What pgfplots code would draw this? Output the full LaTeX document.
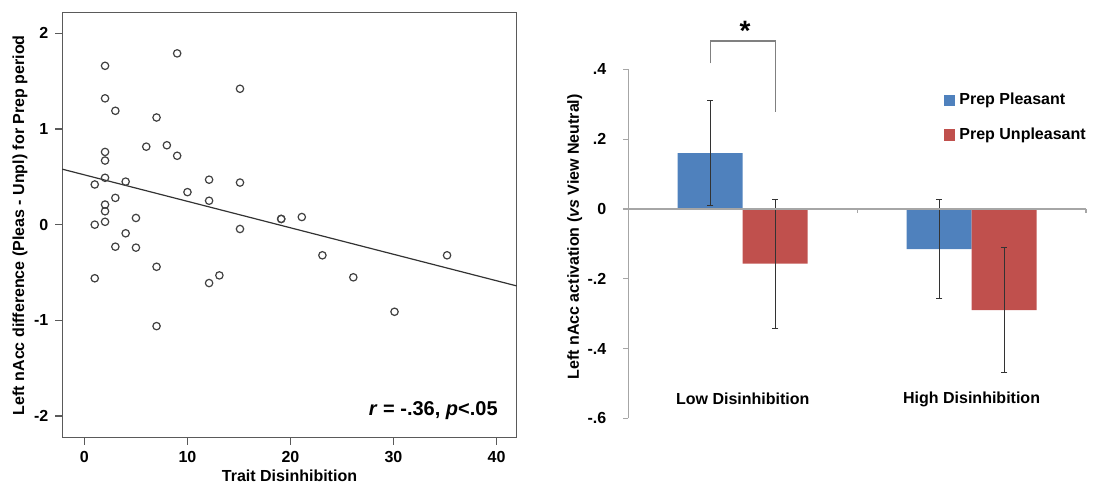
\documentclass[border=0pt]{standalone}
\usepackage{fontspec}
\setmainfont{Liberation Sans}
\usepackage{pgfplots}
\pgfplotsset{compat=1.18}
\definecolor{pleas}{HTML}{4F81BD}
\definecolor{unpl}{HTML}{C0504D}
\definecolor{frame}{HTML}{5A5A5A}
\newcommand\lab{\fontsize{8}{9.6}\selectfont\bfseries}

\begin{document}
\begin{tikzpicture}
\useasboundingbox (0,0) rectangle (546.5pt,242pt);

% left: scatter with regression line
\begin{axis}[
  at={(31.15pt,23.15pt)}, anchor=south west,
  scale only axis, width=227.2pt, height=212.5pt,
  xmin=-2.15, xmax=41.96, ymin=-2.226, ymax=2.215,
  xtick={0,10,20,30,40}, ytick={-2,-1,0,1,2},
  xticklabels={0,10,20,30,40}, yticklabels={-2,-1,0,1,2},
  tick align=outside, major tick length=3.5pt,
  xtick pos=bottom, ytick pos=left,
  axis line style={frame, line width=0.7pt},
  tick style={frame, line width=0.6pt},
  tick label style={font=\lab},
  xlabel={Trait Disinhibition},
  ylabel={Left nAcc difference (Pleas - Unpl) for Prep period},
  label style={font=\lab},
  xlabel style={at={(axis description cs:0.5,-0.09)}, anchor=center},
  ylabel style={at={(axis description cs:-0.093,0.5)}, anchor=center},
  clip=false,
]
\addplot[only marks, mark=o, mark size=1.85pt, mark options={draw=black!75, line width=0.6pt}] coordinates {
  (2,1.66) (9,1.79) (15.1,1.42) (2,1.32) (3,1.19) (7,1.12)
  (6,0.815) (8,0.83) (9,0.72) (2,0.76) (2,0.67) (2,0.49)
  (1,0.42) (4,0.45) (12.1,0.47) (15.1,0.44) (10,0.34) (3,0.28)
  (12.1,0.25) (2,0.21) (2,0.14) (1,0.00) (2,0.03) (5,0.07)
  (19.1,0.06) (19.1,0.06) (21.1,0.08) (15.1,-0.045) (4,-0.09)
  (3,-0.23) (5,-0.24) (7,-0.44) (1,-0.56) (12.1,-0.61) (13.1,-0.53)
  (7,-1.06) (23.1,-0.32) (26.1,-0.55) (30.1,-0.91) (35.2,-0.32)
};
\addplot[black!80, line width=0.6pt] coordinates {(-2.15,0.58) (41.96,-0.64)};
\node[anchor=east, font=\fontsize{10}{12}\selectfont\bfseries] at (axis cs:40.8,-1.94)
  {\textit{r} = -.36, \textit{p}<.05};
\end{axis}

% right: bar chart
\begin{axis}[
  at={(314.15pt,32.85pt)}, anchor=south west,
  scale only axis, width=228.85pt, height=174.5pt,
  xmin=0, xmax=2, ymin=-0.6, ymax=0.4,
  ybar=0pt, bar width=32.5pt,
  axis y line*=left, axis x line=none,
  ytick={-0.6,-0.4,-0.2,0,0.2,0.4},
  yticklabels={-.6,-.4,-.2,0,.2,.4},
  tick align=outside, major tick length=2.5pt,
  axis line style={gray!70, line width=0.6pt},
  tick style={gray!70, line width=0.6pt},
  yticklabel style={font=\lab, xshift=-5pt},
  ylabel={Left nAcc activation (\textit{vs} View Neutral)},
  ylabel style={font=\lab, at={(axis description cs:-0.117,0.52)}, anchor=center},
  legend style={at={(axis description cs:0.685,0.95)}, anchor=north west,
    draw=none, fill=none, font=\lab, row sep=6pt, inner sep=1pt},
  legend cell align=left,
  legend image code/.code={\fill[#1, draw=none] (0pt,-2.8pt) rectangle (5.6pt,2.8pt);},
  error bars/error bar style={black!80, line width=0.5pt},
  error bars/error mark options={rotate=90, mark size=1.6pt, black!80, line width=0.5pt},
  clip=false,
]
\addplot[fill=pleas, draw=none,
  error bars/.cd, y dir=both, y explicit] coordinates {
  (0.5,0.16) +- (0,0.15)
  (1.5,-0.115) +- (0,0.141)
};
\addplot[fill=unpl, draw=none,
  error bars/.cd, y dir=both, y explicit] coordinates {
  (0.5,-0.157) +- (0,0.185)
  (1.5,-0.29) +- (0,0.178)
};
\legend{Prep Pleasant, Prep Unpleasant}
\draw[gray!70, line width=0.6pt] (axis cs:0,0) -- (axis cs:2,0);
\draw[gray!70, line width=0.6pt] (axis cs:1,0) -- ([yshift=-2pt]axis cs:1,0);
\draw[gray!70, line width=0.6pt] (axis cs:2,0) -- ([yshift=-2pt]axis cs:2,0);
\node[font=\lab] at (axis cs:0.5,-0.545) {Low Disinhibition};
\node[font=\lab] at (axis cs:1.5,-0.545) {High Disinhibition};
\draw[gray, line width=0.8pt] (axis cs:0.36,0.417) |- (axis cs:0.644,0.481) -- (axis cs:0.644,0.277);
\node[font=\fontsize{14}{16}\selectfont\bfseries] at (axis cs:0.51,0.51) {*};
\end{axis}
\end{tikzpicture}
\end{document}
